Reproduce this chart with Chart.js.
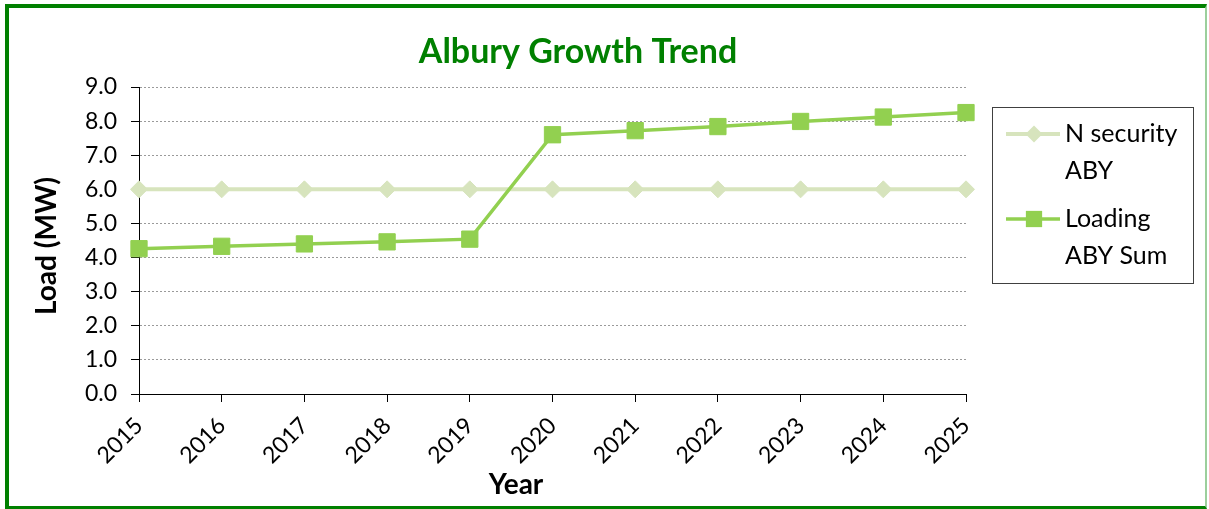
<!DOCTYPE html>
<html>
<head>
<meta charset="utf-8">
<script src="https://cdn.jsdelivr.net/npm/chart.js@4/dist/chart.umd.min.js"></script>
<style>
  html, body { margin: 0; padding: 0; background: #fff; }
  #wrap { position: relative; width: 1209px; height: 509px; }
  #frame {
    position: absolute; left: 5px; top: 4px; width: 1196px; height: 498px;
    border-left: 4px solid #008000; border-top: 4px solid #008000;
    border-bottom: 3px solid #008000; border-right: 2px solid #9ccf9c;
    pointer-events: none;
  }
  canvas { position: absolute; left: 0; top: 0; }
</style>
</head>
<body>
<div id="wrap">
  <canvas id="c" width="1209" height="509"></canvas>
  <div id="frame"></div>
</div>
<script>
const years = ['2015', '2016', '2017', '2018', '2019', '2020', '2021', '2022', '2023', '2024', '2025'];
const nSecurity = [6.0, 6.0, 6.0, 6.0, 6.0, 6.0, 6.0, 6.0, 6.0, 6.0, 6.0];
const loadingSum = [4.26, 4.33, 4.40, 4.46, 4.54, 7.60, 7.72, 7.84, 7.99, 8.12, 8.25];
const yTicks = [0, 1, 2, 3, 4, 5, 6, 7, 8, 9];

const FONT = 'Lato, "Open Sans", sans-serif';
const LIGHT = '#d7e4bd';
const GREEN = '#92d050';

// title, axis titles and the boxed legend on the right
const chartText = {
  id: 'chartText',
  afterDraw(chart) {
    const ctx = chart.ctx;
    ctx.save();
    ctx.fillStyle = '#008000';
    ctx.font = 'bold 34px ' + FONT;
    ctx.textAlign = 'center';
    ctx.textBaseline = 'middle';
    ctx.fillText('Albury Growth Trend', 578, 52);

    ctx.fillStyle = '#000';
    ctx.font = 'bold 28px ' + FONT;
    ctx.fillText('Year', 516, 485);
    ctx.save();
    ctx.translate(47, 246);
    ctx.rotate(-Math.PI / 2);
    ctx.fillText('Load (MW)', 0, 0);
    ctx.restore();

    // legend
    ctx.strokeStyle = '#404040';
    ctx.lineWidth = 1;
    ctx.strokeRect(992.5, 107.5, 201, 176);
    const items = [
      { ds: chart.data.datasets[1], lines: ['N security', 'ABY'], y: 134 },
      { ds: chart.data.datasets[0], lines: ['Loading', 'ABY Sum'], y: 219 }
    ];
    ctx.font = '25px ' + FONT;
    ctx.textAlign = 'left';
    items.forEach(it => {
      ctx.strokeStyle = it.ds.borderColor;
      ctx.lineWidth = it.ds.borderWidth;
      ctx.beginPath();
      ctx.moveTo(1006, it.y);
      ctx.lineTo(1060, it.y);
      ctx.stroke();
      ctx.fillStyle = it.ds.pointBackgroundColor;
      Chart.helpers.drawPoint(ctx, {
        pointStyle: it.ds.pointStyle, radius: it.ds.pointRadius, rotation: 0, borderWidth: 0
      }, 1034, it.y);
      ctx.fillStyle = '#000';
      it.lines.forEach((t, i) => ctx.fillText(t, 1065, it.y + i * 37));
    });
    ctx.restore();
  }
};

new Chart(document.getElementById('c'), {
  type: 'line',
  data: {
    labels: years,
    datasets: [
      {
        label: 'Loading ABY Sum',
        data: loadingSum,
        borderColor: GREEN,
        backgroundColor: GREEN,
        pointBackgroundColor: GREEN,
        pointBorderColor: GREEN,
        pointBorderWidth: 1,
        borderWidth: 3.5,
        pointStyle: 'rect',
        pointRadius: 11.5,
        tension: 0,
        order: 0
      },
      {
        label: 'N security ABY',
        data: nSecurity,
        borderColor: LIGHT,
        backgroundColor: LIGHT,
        pointBackgroundColor: LIGHT,
        pointBorderColor: LIGHT,
        pointBorderWidth: 1,
        borderWidth: 4,
        pointStyle: 'rectRot',
        pointRadius: 8.5,
        tension: 0,
        order: 1
      }
    ]
  },
  options: {
    responsive: false,
    animation: false,
    events: [],
    layout: { padding: { left: 0, top: 87, right: 243, bottom: 0 } },
    plugins: { legend: { display: false }, title: { display: false }, tooltip: { enabled: false } },
    scales: {
      x: {
        offset: false,
        afterFit: s => { s.height = 115; },
        border: { display: true, color: '#000', width: 1 },
        grid: { drawOnChartArea: false, drawTicks: true, tickLength: 8, tickColor: '#000' },
        ticks: {
          color: '#000', font: { family: FONT, size: 23 },
          minRotation: 45, maxRotation: 45, padding: 10, autoSkip: false
        }
      },
      y: {
        min: 0, max: 9,
        afterFit: s => { s.width = 139; },
        afterBuildTicks: s => { s.ticks = yTicks.map(v => ({ value: v })); },
        border: { display: true, color: '#000', width: 1, dash: [2, 2] },
        grid: {
          color: ctx => ctx.tick && ctx.tick.value === 0 ? 'rgba(0,0,0,0)' : '#9a9a9a',
          lineWidth: 1, tickLength: 8, tickColor: '#000', tickBorderDash: [], drawTicks: true
        },
        ticks: {
          color: '#000', font: { family: FONT, size: 23 }, padding: 14,
          callback: v => Number(v).toFixed(1)
        }
      }
    }
  },
  plugins: [chartText]
});
</script>
</body>
</html>
